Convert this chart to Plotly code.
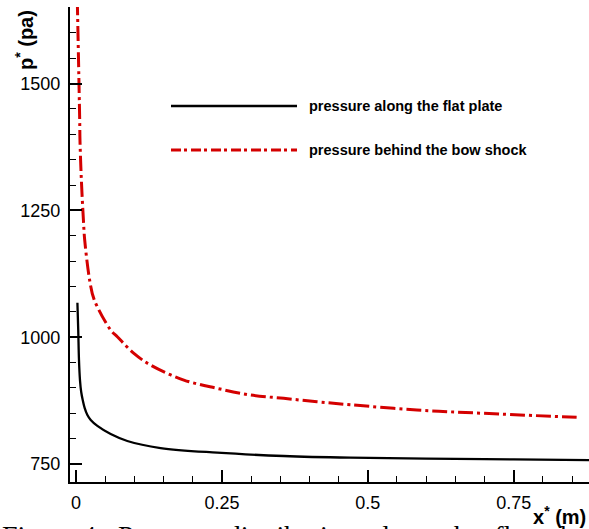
import plotly.graph_objects as go

# ---- data ----
x_plate = [0.0024, 0.0038, 0.0051, 0.0068, 0.0089, 0.0115, 0.0149, 0.0195, 0.0252,
           0.0366, 0.0594, 0.0879, 0.1449, 0.2419, 0.3559, 0.47, 0.6, 0.75, 0.9]
p_plate = [1068, 1014, 955, 915.5, 892, 876, 860, 846.5, 836.7,
           825, 809, 795.3, 781.5, 772.3, 765.8, 762.4, 760.5, 759, 757.6]

x_shock = [0.0022, 0.0063, 0.0068, 0.0092, 0.0127, 0.0149, 0.024, 0.0308, 0.0594,
           0.0708, 0.0992, 0.1278, 0.1848, 0.2419, 0.2989, 0.3559, 0.413, 0.47,
           0.5841, 0.698, 0.8578]
p_shock = [1665, 1427.7, 1388.3, 1309.5, 1230.7, 1191.3, 1108, 1075, 1014,
           1000.8, 968.1, 945, 915.5, 899.1, 886, 879.4, 872.7, 866.8,
           856.4, 849.9, 842]

x_ticks = [0, 0.25, 0.5, 0.75]
y_ticks = [750, 1000, 1250, 1500]
legend_labels = ["pressure along the flat plate", "pressure behind the bow shock"]
caption = "Figure 4:&nbsp; Pressure&nbsp; distribution&nbsp; along&nbsp; the&nbsp; flat&nbsp; plate"

RED = "#d40000"
W, H = 589, 529
ML, MR, MT, MB = 70, 0, 7, 47
PW, PH = W - ML - MR, H - MT - MB


def px(xp):
    return (xp - ML) / PW


def py(yp):
    return (H - MB - yp) / PH


fig = go.Figure()
fig.add_trace(go.Scatter(x=x_plate, y=p_plate, mode="lines",
                         line=dict(color="black", width=2.3, shape="spline", smoothing=1.0),
                         showlegend=False, hoverinfo="skip"))
fig.add_trace(go.Scatter(x=x_shock, y=p_shock, mode="lines",
                         line=dict(color=RED, width=3, dash="15px,4px,3px,4px",
                                   shape="spline", smoothing=1.0),
                         showlegend=False, hoverinfo="skip"))

tickfont = dict(family="Liberation Sans, Arial, sans-serif", size=18, color="black")

fig.update_xaxes(range=[-0.0103, 0.879], tickvals=x_ticks,
                 ticktext=[f"{v:g}" for v in x_ticks],
                 ticks="inside", ticklen=12, tickwidth=2, tickcolor="black",
                 showline=True, linecolor="black", linewidth=2.2,
                 showgrid=False, zeroline=False, tickfont=tickfont,
                 ticklabelstandoff=3,
                 minor=dict(dtick=0.05, tick0=0, ticks="inside", ticklen=6,
                            tickwidth=1, tickcolor="black"))
fig.update_yaxes(range=[714.5, 1651], tickvals=y_ticks,
                 ticks="inside", ticklen=12, tickwidth=2, tickcolor="black",
                 showline=True, linecolor="black", linewidth=2.2,
                 showgrid=False, zeroline=False, tickfont=tickfont,
                 ticklabelstandoff=4,
                 minor=dict(dtick=50, tick0=0, ticks="inside", ticklen=6,
                            tickwidth=1, tickcolor="black"))

bold = dict(family="Liberation Sans, Arial, sans-serif", color="black")

# legend (drawn manually, long line samples)
leg_y = [106, 150]
leg_styles = [dict(color="black", width=2.3, dash="solid"),
              dict(color=RED, width=3, dash="10px,3px,3px,4px")]
for yy, lab, st in zip(leg_y, legend_labels, leg_styles):
    fig.add_shape(type="line", xref="paper", yref="paper",
                  x0=px(171), x1=px(297), y0=py(yy), y1=py(yy), line=st)
    fig.add_annotation(xref="paper", yref="paper", x=px(307), y=py(yy),
                       xanchor="left", yanchor="middle", showarrow=False,
                       text=f"<b>{lab}</b>", font=dict(size=14.5, **bold))

# axis titles
fig.add_annotation(xref="paper", yref="paper", x=px(24), y=py(40),
                   xanchor="center", yanchor="middle", showarrow=False,
                   textangle=-90, text="<b>p<sup>*</sup> (pa)</b>",
                   font=dict(size=20, **bold))
fig.add_annotation(xref="paper", yref="paper", x=px(588), y=py(515),
                   xanchor="right", yanchor="middle", showarrow=False,
                   text="<b>x<sup>*</sup> (m)</b>", font=dict(size=20, **bold))

# partially visible caption at the very bottom
fig.add_annotation(xref="paper", yref="paper", x=px(0), y=py(518),
                   xanchor="left", yanchor="top", showarrow=False,
                   text=caption,
                   font=dict(family="Liberation Serif, serif", size=28, color="black"))

fig.update_layout(width=W, height=H, margin=dict(l=ML, r=MR, t=MT, b=MB),
                  paper_bgcolor="white", plot_bgcolor="white",
                  template="none", showlegend=False)

fig.write_html("out.html")
